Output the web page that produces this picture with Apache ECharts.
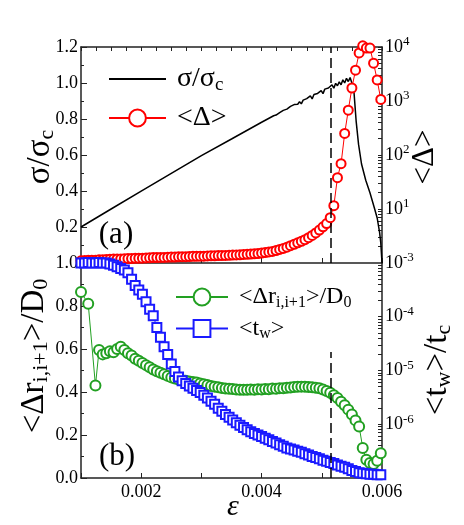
<!DOCTYPE html>
<html>
<head>
<meta charset="utf-8">
<script src="https://cdn.jsdelivr.net/npm/echarts@6/dist/echarts.min.js"></script>
<style>
  html, body { margin: 0; padding: 0; background: #fff; }
  #chart { width: 464px; height: 525px; }
</style>
</head>
<body>
<div id="chart"></div>
<script>
  const serif = 'Liberation Serif'
  const axisColor = '#222'

  // strain of the dashed vertical line
  const transitionEps = 0.00515

  // sigma / sigma_c (continuous curve)
  const stressEps = [
    0.0010, 0.0015, 0.0020, 0.0025, 0.0030, 0.0035, 0.0040,
    0.00420, 0.00424, 0.00427, 0.00430, 0.00433, 0.00436, 0.00439, 0.00442, 0.00445, 0.00448,
    0.00451, 0.00454, 0.00457, 0.00460, 0.00463, 0.00466, 0.00469, 0.00472, 0.00475, 0.00478,
    0.00481, 0.00484, 0.00487, 0.00490, 0.00493, 0.00496, 0.00499, 0.00502, 0.00505, 0.00508,
    0.00511, 0.00514, 0.00517, 0.00520, 0.00523, 0.00526, 0.00529, 0.00532, 0.00535, 0.00538,
    0.00541, 0.00544, 0.00547,
    0.00550, 0.00553, 0.00557, 0.00561, 0.00566, 0.00573, 0.00580, 0.00587, 0.00592, 0.00596, 0.00598, 0.00600
  ]
  const stressVal = [
    0.200, 0.300, 0.399, 0.498, 0.597, 0.689, 0.782,
    0.818, 0.822, 0.827, 0.836, 0.830, 0.848, 0.840, 0.855, 0.853, 0.870,
    0.860, 0.880, 0.872, 0.882, 0.896, 0.884, 0.905, 0.899, 0.913, 0.902,
    0.928, 0.912, 0.936, 0.925, 0.942, 0.936, 0.958, 0.941, 0.966, 0.955,
    0.972, 0.962, 0.990, 0.971, 0.998, 0.985, 1.006, 0.990, 1.018, 1.000,
    1.026, 1.008, 1.030,
    1.00, 0.97, 0.79, 0.66, 0.55, 0.46, 0.39, 0.31, 0.25, 0.17, 0.11, 0.00
  ]

  // symbol series are sampled on a common strain grid
  const sampleEps0 = 0.001
  const sampleStep = 0.00006

  // <Delta>
  const deltaVal = [
    1.10, 1.11, 1.12, 1.13, 1.13, 1.15, 1.15, 1.16, 1.17, 1.18,
    1.19, 1.19, 1.20, 1.21, 1.21, 1.22, 1.23, 1.23, 1.24, 1.25,
    1.26, 1.26, 1.27, 1.27, 1.28, 1.29, 1.29, 1.30, 1.31, 1.31,
    1.32, 1.33, 1.33, 1.34, 1.34, 1.35, 1.36, 1.36, 1.37, 1.37,
    1.38, 1.39, 1.40, 1.41, 1.42, 1.44, 1.45, 1.46, 1.48, 1.50,
    1.53, 1.56, 1.60, 1.64, 1.70, 1.78, 1.86, 1.96, 2.09, 2.22,
    2.36, 2.52, 2.70, 2.95, 3.24, 3.60, 4.07, 4.68, 5.37, 6.9,
    11.5, 38, 69, 251, 676, 1740, 3720, 7760, 10500, 9550,
    9550, 5010, 2450, 1070
  ]

  // <Delta r_{i,i+1}> / D0
  const drVal = [
    0.865, null, 0.81, null, 0.43, 0.595, 0.575, 0.58, 0.59, 0.585,
    0.60, 0.61, 0.595, 0.58, 0.57, 0.555, 0.545, 0.535, 0.525, 0.515,
    0.505, 0.497, 0.49, 0.482, 0.475, 0.468, 0.463, 0.458, 0.455, 0.452,
    0.449, 0.447, 0.444, 0.44, 0.436, 0.432, 0.428, 0.425, 0.422, 0.419,
    0.416, 0.415, 0.414, 0.412, 0.411, 0.41, 0.41, 0.412, 0.41, 0.413,
    0.412, 0.414, 0.413, 0.416, 0.415, 0.418, 0.417, 0.42, 0.421, 0.423,
    0.424, 0.425, 0.424, 0.423, 0.422, 0.42, 0.417, 0.412, 0.405, 0.397,
    0.385, 0.372, 0.355, 0.338, 0.318, 0.295, 0.268, 0.24, 0.14, 0.085,
    0.07, 0.065, 0.08, 0.115
  ]

  // log10(<t_w>/t_c)
  const twLog10 = [
    -3.00, -3.00, -2.99, -3.00, -3.00, -2.99, -3.00, -3.00, -3.02, -3.04,
    -3.07, -3.10, -3.13, -3.18, -3.30, -3.42, -3.50, -3.58, -3.72, -3.86,
    -3.98, -4.20, -4.38, -4.56, -4.70, -4.88, -5.02, -5.12, -5.19, -5.24,
    -5.29, -5.33, -5.37, -5.41, -5.46, -5.51, -5.57, -5.63, -5.70, -5.76,
    -5.82, -5.87, -5.92, -5.97, -6.02, -6.06, -6.10, -6.14, -6.17, -6.20,
    -6.23, -6.26, -6.29, -6.32, -6.35, -6.38, -6.41, -6.44, -6.46, -6.48,
    -6.50, -6.52, -6.55, -6.57, -6.60, -6.62, -6.64, -6.67, -6.69, -6.71,
    -6.73, -6.76, -6.78, -6.80, -6.83, -6.86, -6.88, -6.90, -6.91, -6.92,
    -6.93, -6.93, -6.94, -6.94
  ]

  const xTickLabels = [0.002, 0.004, 0.006]

  const epsAt = i => sampleEps0 + i * sampleStep
  const pairs = (vals, f) => vals.map((v, i) => [epsAt(i), v == null ? null : f(v)])

  // minor ticks for log axes (1..9 per decade)
  function logTicks(e0, e1) {
    const out = []
    for (let e = e0; e < e1; e++) {
      for (let m = 1; m < 10; m++) out.push(m * Math.pow(10, e))
    }
    out.push(Math.pow(10, e1))
    return out
  }

  const subRich = size => ({
    t: { fontFamily: serif, fontSize: size, color: '#000' },
    s: { fontFamily: serif, fontSize: Math.round(size * 0.68), color: '#000', padding: [Math.round(size * 0.45), 0, 0, 0] },
    g: { width: 6 }
  })
  const supRich = {
    b: { fontFamily: serif, fontSize: 18, color: '#000' },
    p: { fontFamily: serif, fontSize: 13, color: '#000', padding: [0, 0, 10, 0] }
  }
  const logLabel = v => '{b|10}{p|' + Math.round(Math.log10(v)) + '}'

  const legendText = {
    sigma: '{g|}{t|σ/σ}{s|c}',
    delta: '{g|}{t|<Δ>}',
    dr: '{g|}{t|<Δr}{s|i,i+1}{t|>/D}{s|0}',
    tw: '{g|}{t|<t}{s|w}{t|>}'
  }

  const baseX = {
    type: 'value', min: 0.001, max: 0.006,
    axisLine: { lineStyle: { color: axisColor, width: 1.5 } },
    splitLine: { show: false }
  }
  const baseY = {
    axisLine: { show: true, lineStyle: { color: axisColor, width: 1.5 } },
    splitLine: { show: false }
  }
  const dashStyle = { color: '#000', type: [10, 5], width: 1.5 }
  const tickFont = { color: '#000', fontFamily: serif, fontSize: 18 }

  const chart = echarts.init(document.getElementById('chart'))
  chart.setOption({
    animation: false,
    textStyle: { fontFamily: serif },
    grid: [
      { left: 81, top: 47, width: 301, height: 216 },
      { left: 81, top: 263, width: 301, height: 215 }
    ],
    xAxis: [
      Object.assign({}, baseX, {
        gridIndex: 0, position: 'bottom', interval: 0.001,
        axisTick: { inside: true, length: 5, lineStyle: { color: axisColor } },
        axisLabel: { show: false }
      }),
      Object.assign({}, baseX, {
        gridIndex: 0, position: 'top', interval: 0.00025,
        axisTick: { inside: true, length: 4, lineStyle: { color: axisColor } },
        axisLabel: { show: false }
      }),
      Object.assign({}, baseX, {
        gridIndex: 1, position: 'bottom', interval: 0.001,
        axisTick: { inside: true, length: 5, lineStyle: { color: axisColor } },
        axisLabel: Object.assign({
          margin: 5,
          formatter: v => xTickLabels.some(t => Math.abs(t - v) < 1e-9) ? v.toFixed(3) : ''
        }, tickFont)
      })
    ],
    yAxis: [
      Object.assign({}, baseY, {
        gridIndex: 0, type: 'value', position: 'left', min: 0, max: 1.2, interval: 0.2,
        axisTick: { inside: true, length: 6, lineStyle: { color: axisColor } },
        minorTick: { show: true, splitNumber: 2, length: 3, lineStyle: { color: axisColor } },
        axisLabel: Object.assign({ showMinLabel: false, margin: 3, formatter: v => v.toFixed(1) }, tickFont)
      }),
      Object.assign({}, baseY, {
        gridIndex: 0, type: 'log', logBase: 10, position: 'right', min: 1, max: 10000,
        axisTick: { inside: true, length: 4, customValues: logTicks(0, 4), lineStyle: { color: axisColor } },
        axisLabel: Object.assign({ showMinLabel: false, margin: 3, formatter: logLabel, rich: supRich }, tickFont)
      }),
      Object.assign({}, baseY, {
        gridIndex: 1, type: 'value', position: 'left', min: 0, max: 1, interval: 0.2,
        axisTick: { inside: true, length: 6, lineStyle: { color: axisColor } },
        minorTick: { show: true, splitNumber: 2, length: 3, lineStyle: { color: axisColor } },
        axisLabel: Object.assign({ margin: 3, formatter: v => v.toFixed(1) }, tickFont)
      }),
      Object.assign({}, baseY, {
        gridIndex: 1, type: 'log', logBase: 10, position: 'right', min: 1e-7, max: 1e-3,
        axisTick: { inside: true, length: 4, customValues: logTicks(-7, -3), lineStyle: { color: axisColor } },
        axisLabel: Object.assign({ showMinLabel: false, margin: 3, formatter: logLabel, rich: supRich }, tickFont)
      })
    ],
    legend: [
      {
        data: [{ name: 'sigma', itemStyle: { opacity: 0 } }, 'delta'],
        orient: 'vertical', left: 103, top: 60, itemWidth: 57, itemHeight: 21, itemGap: 9,
        formatter: n => legendText[n], selectedMode: false,
        textStyle: { fontFamily: serif, fontSize: 28, color: '#000', rich: subRich(28) }
      },
      {
        data: ['dr', 'tw'],
        orient: 'vertical', left: 170, top: 280, itemWidth: 52, itemHeight: 21, itemGap: 6,
        formatter: n => legendText[n], selectedMode: false,
        textStyle: { fontFamily: serif, fontSize: 24, color: '#000', rich: subRich(24) }
      }
    ],
    graphic: [
      { type: 'text', x: 40, y: 157, rotation: Math.PI / 2,
        style: { text: '{t|σ/σ}{s|c}', rich: subRich(33), align: 'center', verticalAlign: 'middle' } },
      { type: 'text', x: 34, y: 356, rotation: Math.PI / 2,
        style: { text: '{t|<Δr}{s|i,i+1}{t|>/D}{s|0}', rich: subRich(33), align: 'center', verticalAlign: 'middle' } },
      { type: 'text', x: 425, y: 157, rotation: Math.PI / 2,
        style: { text: '<Δ>', fontFamily: serif, fontSize: 31, fill: '#000', align: 'center', verticalAlign: 'middle' } },
      { type: 'text', x: 437, y: 370, rotation: Math.PI / 2,
        style: { text: '{t|<t}{s|w}{t|>/t}{s|c}', rich: subRich(33), align: 'center', verticalAlign: 'middle' } },
      { type: 'text', x: 233, y: 507,
        style: { text: 'ε', fontFamily: serif, fontStyle: 'italic', fontSize: 30, fill: '#000', align: 'center', verticalAlign: 'middle' } },
      { type: 'text', x: 116, y: 235,
        style: { text: '(a)', fontFamily: serif, fontSize: 31, fill: '#000', align: 'center', verticalAlign: 'middle' } },
      { type: 'text', x: 117, y: 457,
        style: { text: '(b)', fontFamily: serif, fontSize: 31, fill: '#000', align: 'center', verticalAlign: 'middle' } }
    ],
    series: [
      {
        name: 'sigma', type: 'line', xAxisIndex: 0, yAxisIndex: 0,
        data: stressEps.map((e, i) => [e, stressVal[i]]),
        symbol: 'none', color: '#000', lineStyle: { color: '#000', width: 1.5 },
        markLine: {
          silent: true, symbol: 'none', label: { show: false }, lineStyle: dashStyle,
          data: [[{ coord: [transitionEps, 0] }, { coord: [transitionEps, 1.2] }]]
        }
      },
      {
        name: 'delta', type: 'line', xAxisIndex: 0, yAxisIndex: 1, clip: false,
        data: pairs(deltaVal, v => v),
        symbol: 'emptyCircle', symbolSize: 9, color: '#ff0000',
        lineStyle: { color: '#ff0000', width: 1 }, itemStyle: { borderWidth: 1 }
      },
      {
        name: 'dr', type: 'line', xAxisIndex: 2, yAxisIndex: 2, clip: false, connectNulls: true,
        data: pairs(drVal, v => v),
        symbol: 'emptyCircle', symbolSize: 10, color: '#22a022',
        lineStyle: { color: '#22a022', width: 1 }, itemStyle: { borderWidth: 1 },
        markLine: {
          silent: true, symbol: 'none', label: { show: false }, lineStyle: dashStyle,
          data: [[{ coord: [transitionEps, 0] }, { coord: [transitionEps, 0.586] }]]
        }
      },
      {
        name: 'tw', type: 'line', xAxisIndex: 2, yAxisIndex: 3, clip: false,
        data: pairs(twLog10, v => Math.pow(10, v)),
        symbol: 'emptyRect', symbolSize: 9, color: '#1a1aff',
        lineStyle: { color: '#1a1aff', width: 1 }, itemStyle: { borderWidth: 1 }
      }
    ]
  })
</script>
</body>
</html>
